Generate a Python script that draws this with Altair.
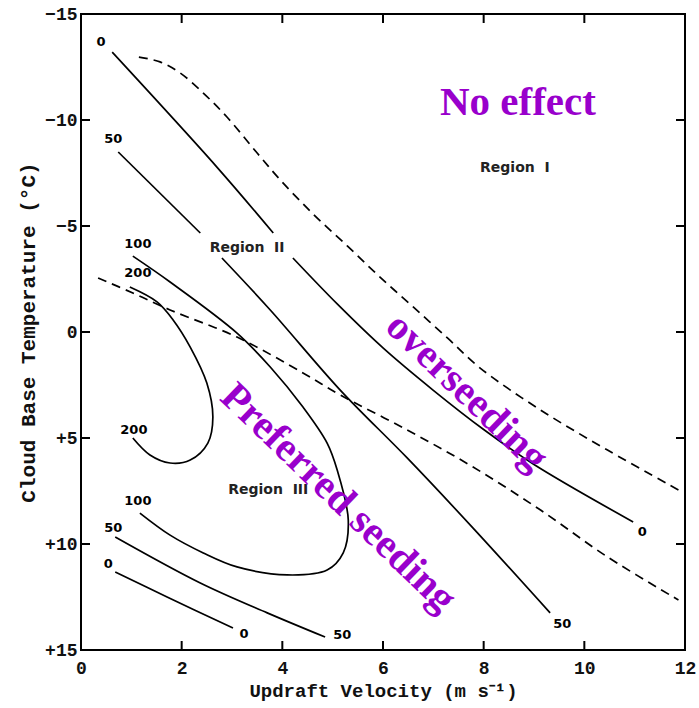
import altair as alt
import pandas as pd

# ---- data ----
x_ticks = [0, 2, 4, 6, 8, 10, 12]
y_ticks = [-15, -10, -5, 0, 5, 10, 15]

# solid contours (updraft velocity x, cloud base temperature y)
c0_top_a_x = [0.62, 2.70, 3.82]
c0_top_a_y = [-13.2, -7.78, -4.67]
c0_top_b_x = [4.21, 5.10, 6.00, 7.00, 8.00, 9.00, 10.97]
c0_top_b_y = [-3.49, -1.30, 0.75, 2.75, 4.60, 6.25, 8.96]

c50_top_a_x = [0.74, 2.37]
c50_top_a_y = [-8.49, -4.67]
c50_top_b_x = [2.80, 3.76, 5.15, 6.48, 7.79, 9.32]
c50_top_b_y = [-3.49, -1.04, 2.74, 5.94, 9.25, 13.25]

c100_x = [1.03, 1.77, 3.10, 3.76, 4.41, 4.89, 5.09, 5.31, 5.21, 4.89, 4.10, 3.10, 2.43, 1.77, 1.17]
c100_y = [-3.58, -2.36, 0.05, 1.65, 3.54, 5.24, 6.51, 8.87, 10.42, 11.23, 11.46, 11.08, 10.42, 9.58, 8.54]

c200_x = [0.97, 1.51, 1.83, 2.17, 2.50, 2.62, 2.52, 2.17, 1.77, 1.37, 1.03]
c200_y = [-2.12, -1.42, -0.57, 0.71, 2.41, 4.01, 5.24, 6.04, 6.18, 5.80, 5.00]

c50_low_x = [0.68, 2.37, 3.70, 4.85]
c50_low_y = [9.67, 11.84, 13.25, 14.39]

c0_low_x = [0.68, 1.71, 3.02]
c0_low_y = [11.32, 12.50, 13.96]

# dashed region boundaries
d_top_x = [1.15, 1.57, 1.97, 2.43, 2.90, 3.50, 3.96, 4.61, 5.29, 5.94, 6.60, 7.28, 7.93, 9.13, 10.46, 11.87]
d_top_y = [-12.97, -12.74, -12.22, -11.27, -10.14, -8.44, -7.17, -5.57, -4.06, -2.59, -1.18, 0.28, 1.70, 3.68, 5.57, 7.45]

d_low_x = [0.34, 1.03, 1.77, 3.10, 4.41, 5.15, 6.48, 7.79, 9.13, 10.46, 11.87]
d_low_y = [-2.55, -1.84, -1.04, 0.24, 1.93, 2.97, 4.62, 6.37, 8.40, 10.61, 12.64]

# contour labels
lab_text = ["0", "50", "100", "200", "200", "100", "50", "0", "0", "50", "50", "0"]
lab_x = [0.40, 0.64, 1.13, 1.13, 1.05, 1.13, 0.64, 0.54, 3.24, 5.19, 9.56, 11.15]
lab_y = [-13.7, -9.1, -4.15, -2.8, 4.6, 7.95, 9.25, 10.95, 14.25, 14.3, 13.75, 9.45]

# region labels
reg_text = ["Region\u00a0\u00a0I", "Region\u00a0\u00a0II", "Region\u00a0\u00a0III"]
reg_x = [8.62, 3.30, 3.72]
reg_y = [-7.74, -3.96, 7.45]

# purple annotations
ann_text = ["No effect", "overseeding", "Preferred seeding"]
ann_x = [8.68, 7.66, 5.11]
ann_y = [-10.8, 2.85, 7.83]
ann_angle = [0, 44, 44]

# ---- build tables ----
def curve_rows(name, xs, ys):
    return [{"curve": name, "i": i, "x": a, "y": b} for i, (a, b) in enumerate(zip(xs, ys))]

solid_rows = (curve_rows("c0ta", c0_top_a_x, c0_top_a_y) + curve_rows("c0tb", c0_top_b_x, c0_top_b_y)
              + curve_rows("c50ta", c50_top_a_x, c50_top_a_y) + curve_rows("c50tb", c50_top_b_x, c50_top_b_y)
              + curve_rows("c100", c100_x, c100_y) + curve_rows("c200", c200_x, c200_y)
              + curve_rows("c50l", c50_low_x, c50_low_y) + curve_rows("c0l", c0_low_x, c0_low_y))
dash_rows = curve_rows("dtop", d_top_x, d_top_y) + curve_rows("dlow", d_low_x, d_low_y)

solid_df = pd.DataFrame(solid_rows)
dash_df = pd.DataFrame(dash_rows)
lab_df = pd.DataFrame({"t": lab_text, "x": lab_x, "y": lab_y})
reg_df = pd.DataFrame({"t": reg_text, "x": reg_x, "y": reg_y})
ann_df = pd.DataFrame({"t": ann_text, "x": ann_x, "y": ann_y, "a": ann_angle})
xt_df = pd.DataFrame({"v": x_ticks[1:-1]})
yt_df = pd.DataFrame({"v": y_ticks[1:-1]})

TICK_FONT = "Liberation Mono"

xscale = alt.Scale(domain=[0, 12], nice=False, zero=False)
yscale = alt.Scale(domain=[-15, 15], reverse=True, nice=False, zero=False)

xaxis = alt.Axis(values=x_ticks, title="Updraft Velocity (m s\u207b\u00b9)", ticks=False, domain=False,
                 grid=False, labelFont=TICK_FONT, labelFontSize=18, labelFontWeight="bold",
                 labelColor="#111111", labelPadding=9, labelFlush=False, titleFont=TICK_FONT,
                 titleFontSize=19, titleFontWeight="bold", titleColor="#111111", titlePadding=4)
yaxis = alt.Axis(values=y_ticks, title="Cloud Base Temperature (\u00b0C)", ticks=False, domain=False,
                 grid=False, labelFont=TICK_FONT, labelFontSize=18, labelFontWeight="bold",
                 labelColor="#111111", labelPadding=4, labelFlush=False,
                 labelExpr="datum.value > 0 ? '+' + datum.label : datum.label",
                 titleFont=TICK_FONT, titleFontSize=21, titleFontWeight="bold",
                 titleColor="#111111", titlePadding=6)

solid = alt.Chart(solid_df).mark_line(color="black", strokeWidth=1.7, interpolate="catmull-rom").encode(
    x=alt.X("x:Q", scale=xscale, axis=xaxis),
    y=alt.Y("y:Q", scale=yscale, axis=yaxis),
    detail="curve:N",
    order="i:Q",
)
dashed = alt.Chart(dash_df).mark_line(color="black", strokeWidth=1.7, strokeDash=[9, 6],
                                      interpolate="catmull-rom").encode(
    x=alt.X("x:Q", scale=xscale),
    y=alt.Y("y:Q", scale=yscale),
    detail="curve:N",
    order="i:Q",
)

labels = alt.Chart(lab_df).mark_text(font="DejaVu Sans", fontSize=13, fontWeight="bold",
                                     color="black").encode(
    x=alt.X("x:Q", scale=xscale), y=alt.Y("y:Q", scale=yscale), text="t:N")
regions = alt.Chart(reg_df).mark_text(font="DejaVu Sans", fontSize=14, fontWeight="bold",
                                      color="#222222").encode(
    x=alt.X("x:Q", scale=xscale), y=alt.Y("y:Q", scale=yscale), text="t:N")

ann_layers = []
for i in range(len(ann_text)):
    ann_layers.append(
        alt.Chart(ann_df.iloc[[i]]).mark_text(font="Liberation Serif", fontSize=41, fontWeight="bold",
                                              color="#9900cc", angle=ann_angle[i], baseline="middle",
                                              align="center").encode(
            x=alt.X("x:Q", scale=xscale), y=alt.Y("y:Q", scale=yscale), text="t:N"))

# inward ticks on all four sides
tick_bottom = alt.Chart(xt_df).mark_rule(color="black", strokeWidth=2).encode(
    x=alt.X("v:Q", scale=xscale), y=alt.value(636), y2=alt.value(627))
tick_top = alt.Chart(xt_df).mark_rule(color="black", strokeWidth=2).encode(
    x=alt.X("v:Q", scale=xscale), y=alt.value(0), y2=alt.value(9))
tick_left = alt.Chart(yt_df).mark_rule(color="black", strokeWidth=2).encode(
    y=alt.Y("v:Q", scale=yscale), x=alt.value(0), x2=alt.value(9))
tick_right = alt.Chart(yt_df).mark_rule(color="black", strokeWidth=2).encode(
    y=alt.Y("v:Q", scale=yscale), x=alt.value(604), x2=alt.value(595))

chart = alt.layer(solid, dashed, labels, regions, *ann_layers,
                  tick_bottom, tick_top, tick_left, tick_right).properties(
    width=604, height=636,
    autosize=alt.AutoSizeParams(type="none"),
    padding={"left": 81, "top": 14, "right": 14, "bottom": 58},
    background="white",
).configure_view(stroke="black", strokeWidth=2)

chart.save("out.html", embed_options={"renderer": "svg", "actions": False})
